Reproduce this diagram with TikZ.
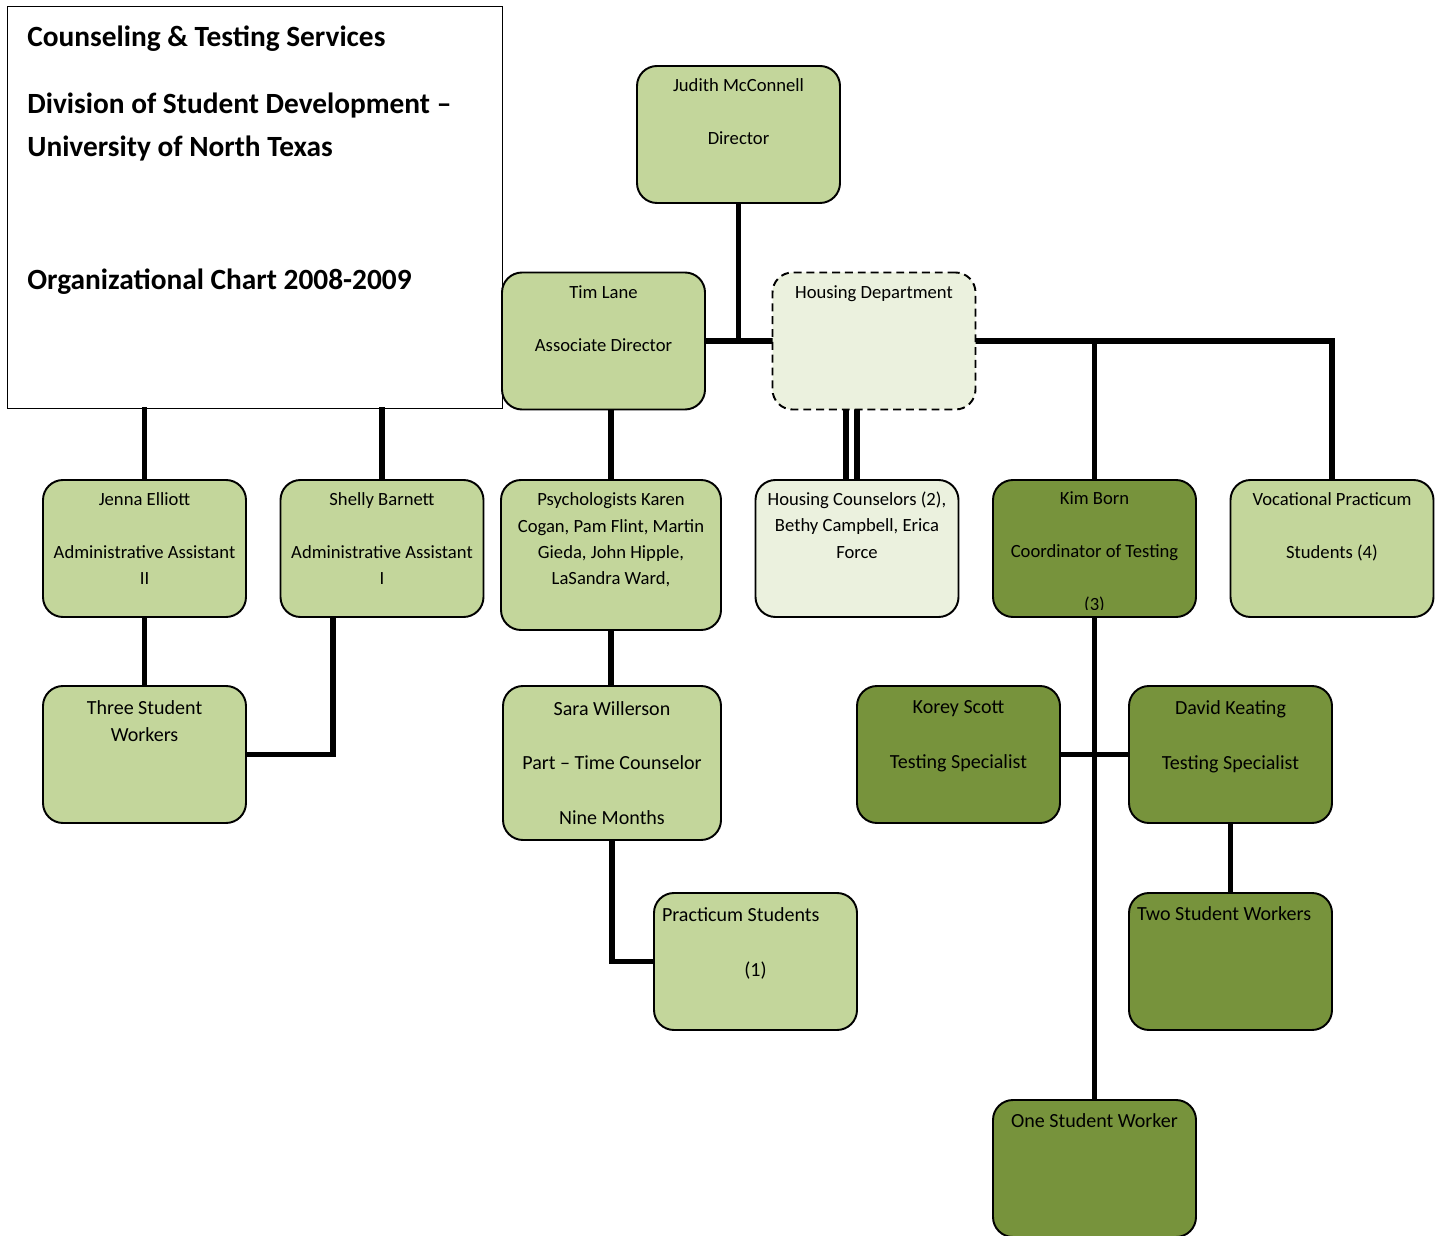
\documentclass[tikz,border=0pt]{standalone}
\usepackage{fontspec}
\setmainfont{Carlito}
\usetikzlibrary{positioning,calc,backgrounds}
\definecolor{leafgreen}{HTML}{C3D69B}
\definecolor{mossgreen}{HTML}{77933C}
\definecolor{palegreen}{HTML}{EBF1DE}
\newcommand{\emptyrow}{\\[\baselineskip]}

\begin{document}
\begin{tikzpicture}[
  card/.style={draw=black,line width=1.1pt,rounded corners=0.4cm,minimum width=4.06cm,minimum height=2.74cm,inner sep=0pt},
  lite/.style={card,fill=leafgreen},
  dark/.style={card,fill=mossgreen},
  pale/.style={card,fill=palegreen},
  txt/.style={anchor=north,align=center,inner sep=0pt,font=\fontsize{10.6}{15}\selectfont,execute at begin node=\strut},
  txtb/.style={txt,font=\fontsize{11.4}{15.6}\selectfont},
  link/.style={line width=3pt,line cap=rect}]
  \useasboundingbox (0,0) rectangle (28.8,-24.72);
  % heading box
  \node[draw=black,line width=0.85pt,minimum width=9.9cm,minimum height=8.04cm,inner sep=0pt,anchor=north west] (title) at (0.14,-0.12) {};
  \node[anchor=north west,align=left,inner sep=0pt,font=\fontsize{16.7}{24.4}\selectfont\bfseries,execute at begin node=\strut] (heading) at ([xshift=0.4cm,yshift=-0.39cm]title.north west)
    {Counseling \& Testing Services\\[13.6pt]Division of Student Development –\\University of North Texas\\[51.6pt]Organizational Chart 2008-2009};
  % top levels
  \node[lite] (dir) at (14.77,-2.69) {};
  \node[txt] (dirT) at ([yshift=-0.26cm]dir.north) {Judith McConnell\emptyrow Director};
  \node[lite] (tim) at (12.07,-6.82) {};
  \node[txt] (timT) at ([yshift=-0.28cm]tim.north) {Tim Lane\emptyrow Associate Director};
  \node[pale,dashed,dash pattern=on 4.5pt off 2.8pt] (housing) at (17.48,-6.82) {};
  \node[txt] (housingT) at ([yshift=-0.16cm]housing.north) {Housing Department};
  % second row
  \node[lite] (jenna) at (2.89,-10.97) {};
  \node[txt] (jennaT) at ([yshift=-0.26cm]jenna.north) {Jenna Elliott\emptyrow Administrative Assistant\\II};
  \node[lite] (shelly) at (7.64,-10.97) {};
  \node[txt] (shellyT) at ([yshift=-0.26cm]shelly.north) {Shelly Barnett\emptyrow Administrative Assistant\\I};
  \node[lite,minimum width=4.4cm,minimum height=3cm] (psych) at (12.22,-11.10) {};
  \node[txt] (psychT) at ([yshift=-0.27cm]psych.north) {Psychologists Karen\\Cogan, Pam Flint, Martin\\Gieda, John Hipple,\\LaSandra Ward,};
  \node[pale] (hcouns) at (17.14,-10.97) {};
  \node[txt] (hcounsT) at ([yshift=-0.25cm]hcouns.north) {Housing Counselors (2),\\Bethy Campbell, Erica\\Force};
  \node[dark] (kim) at (21.89,-10.97) {};
  \begin{scope}
    \clip (kim.north west) rectangle ([yshift=0.16cm]kim.south east);
    \node[txt] (kimT) at ([yshift=-0.25cm]kim.north) {Kim Born\emptyrow Coordinator of Testing\emptyrow(3)};
  \end{scope}
  \node[lite] (voc) at (26.64,-10.97) {};
  \node[txt] (vocT) at ([yshift=-0.26cm]voc.north) {Vocational Practicum\emptyrow Students (4)};
  % third row
  \node[lite] (three) at (2.89,-15.09) {};
  \node[txtb] (threeT) at ([yshift=-0.295cm]three.north) {Three Student\\Workers};
  \node[lite,minimum width=4.36cm,minimum height=3.08cm] (sara) at (12.24,-15.26) {};
  \node[txtb] (saraT) at ([yshift=-0.315cm]sara.north) {Sara Willerson\emptyrow Part – Time Counselor\emptyrow Nine Months};
  \node[dark] (korey) at (19.17,-15.09) {};
  \node[txtb] (koreyT) at ([yshift=-0.305cm]korey.north) {Korey Scott\emptyrow Testing Specialist};
  \node[dark] (david) at (24.61,-15.09) {};
  \node[txtb] (davidT) at ([yshift=-0.3cm]david.north) {David Keating\emptyrow Testing Specialist};
  % bottom rows
  \node[lite] (prac) at (15.11,-19.23) {};
  \node[txtb,text width=3.74cm,align=flush left] (pracT) at ([yshift=-0.195cm]prac.north) {Practicum Students\emptyrow\makebox[\hsize]{(1)}};
  \node[dark] (two) at (24.61,-19.23) {};
  \node[txtb,text width=3.74cm,align=flush left] (twoT) at ([yshift=-0.175cm]two.north) {Two Student Workers};
  \node[dark] (one) at (21.89,-23.37) {};
  \node[txtb] (oneT) at ([yshift=-0.175cm]one.north) {One Student Worker};
  % connectors
  \begin{scope}[on background layer]
    \draw[link] (dir.south) -- (dir.south |- tim.east);
    \draw[link] (tim.east) -- (housing.west);
    \draw[link] (housing.east) -| (voc.north);
    \draw[link] (kim.north) -- (kim.north |- housing.east);
    \draw[link] ([xshift=-0.56cm]housing.south) -- ([xshift=-0.56cm]housing.south |- hcouns.north);
    \draw[link] ([xshift=-0.34cm]housing.south) -- ([xshift=-0.34cm]housing.south |- hcouns.north);
    \draw[link] (psych.north |- tim.south) -- (psych.north);
    \draw[link] (jenna.north |- title.south) -- (jenna.north);
    \draw[link] (shelly.north |- title.south) -- (shelly.north);
    \draw[link] (jenna.south) -- (three.north);
    \draw[link] ([xshift=-0.98cm]shelly.south) |- (three.east);
    \draw[link] (psych.south) -- (psych.south |- sara.north);
    \draw[link] (sara.south) |- (prac.west);
    \draw[link] (kim.south) -- (one.north);
    \draw[link] (korey.east) -- (david.west);
    \draw[link] (david.south) -- (two.north);
  \end{scope}
\end{tikzpicture}
\end{document}
